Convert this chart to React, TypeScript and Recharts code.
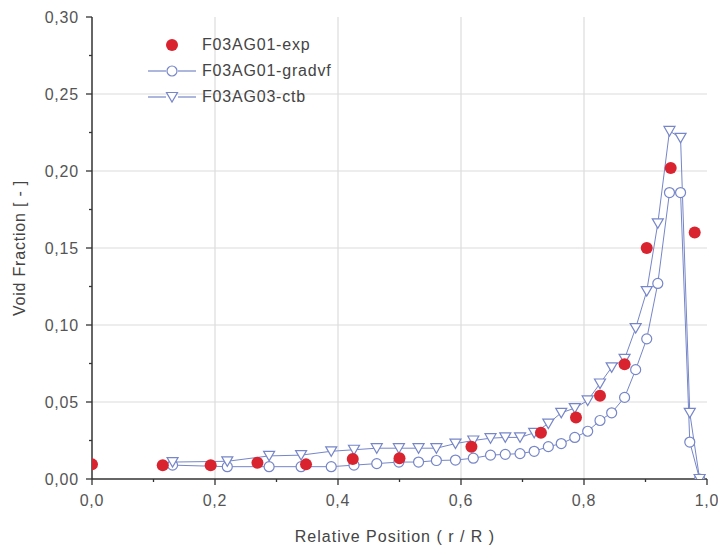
import React from "react";
import { ComposedChart, Line, Scatter, XAxis, YAxis, ReferenceLine } from "recharts";

// measured points, experiment
const expX = [0, 0.115, 0.193, 0.269, 0.348, 0.424, 0.5, 0.617, 0.73, 0.787, 0.826, 0.866, 0.902, 0.941, 0.98];
const expY = [0.0095, 0.009, 0.009, 0.0105, 0.0095, 0.013, 0.0135, 0.021, 0.03, 0.04, 0.054, 0.0745, 0.15, 0.202, 0.16];

// simulation mesh (shared by both runs)
const simX = [
  0.131, 0.22, 0.288, 0.34, 0.389, 0.426, 0.463, 0.499, 0.531, 0.56, 0.591, 0.62, 0.648, 0.672, 0.696,
  0.719, 0.742, 0.763, 0.785, 0.806, 0.826, 0.845, 0.866, 0.884, 0.902, 0.92, 0.939, 0.957, 0.972, 0.988,
];
const gradvfY = [
  0.009, 0.008, 0.008, 0.008, 0.008, 0.009, 0.01, 0.011, 0.011, 0.012, 0.0123, 0.0135, 0.0155, 0.016, 0.0165,
  0.018, 0.021, 0.023, 0.027, 0.031, 0.038, 0.043, 0.053, 0.071, 0.091, 0.127, 0.186, 0.186, 0.024, 0,
];
const ctbY = [
  0.011, 0.0115, 0.015, 0.0155, 0.018, 0.019, 0.02, 0.02, 0.02, 0.02, 0.023, 0.025, 0.0265, 0.027, 0.027,
  0.03, 0.036, 0.043, 0.046, 0.051, 0.062, 0.0725, 0.078, 0.098, 0.122, 0.166, 0.226, 0.2215, 0.043, 0,
];

const xTicks = [0, 0.1, 0.2, 0.3, 0.4, 0.5, 0.6, 0.7, 0.8, 0.9, 1.0];
const xMajor = [0, 0.2, 0.4, 0.6, 0.8, 1.0];
const yTicks = [0, 0.025, 0.05, 0.075, 0.1, 0.125, 0.15, 0.175, 0.2, 0.225, 0.25, 0.275, 0.3];
const yMajor = [0, 0.05, 0.1, 0.15, 0.2, 0.25, 0.3];
const xGrid = [0.2, 0.4, 0.6, 0.8];
const yGrid = [0.05, 0.1, 0.15, 0.2, 0.25];

const labels = ["F03AG01-exp", "F03AG01-gradvf", "F03AG03-ctb"];

const expData = expX.map((x, i) => ({ x, y: expY[i] }));
const gradvfData = simX.map((x, i) => ({ x, y: gradvfY[i] }));
const ctbData = simX.map((x, i) => ({ x, y: ctbY[i] }));

const RED = "#d9232f";
const BLUE = "#7686c8";
const AXIS = "#333";
const FONT = "'Liberation Sans', Arial, sans-serif";

const isMajor = (list: number[], v: number) => list.some((m) => Math.abs(m - v) < 1e-9);
const comma = (v: number, digits: number) => v.toFixed(digits).replace(".", ",");

const XTick = (props: any) => {
  const { x, y, payload } = props;
  const major = isMajor(xMajor, payload.value);
  return (
    <g>
      <line x1={x} x2={x} y1={y} y2={y + (major ? 6 : 3)} stroke={AXIS} strokeWidth={1.3} />
      {major && (
        <text x={x} y={y + 27} textAnchor="middle" fontSize={16} letterSpacing={0.8} fill="#555" fontFamily={FONT}>
          {comma(payload.value, 1)}
        </text>
      )}
    </g>
  );
};

const YTick = (props: any) => {
  const { x, y, payload } = props;
  const major = isMajor(yMajor, payload.value);
  return (
    <g>
      <line x1={x - (major ? 6 : 3)} x2={x} y1={y} y2={y} stroke={AXIS} strokeWidth={1.3} />
      {major && (
        <text x={x - 13} y={y + 6} textAnchor="end" fontSize={16} letterSpacing={0.8} fill="#555" fontFamily={FONT}>
          {comma(payload.value, 2)}
        </text>
      )}
    </g>
  );
};

const Triangle = (props: any) => {
  const { cx, cy } = props;
  if (cx == null || cy == null) return null;
  return (
    <path
      d={`M${cx - 5.5},${cy - 4.5} L${cx + 5.5},${cy - 4.5} L${cx},${cy + 5} Z`}
      fill="#fff"
      stroke={BLUE}
      strokeWidth={1.2}
    />
  );
};

const Circle = (props: any) => {
  const { cx, cy } = props;
  if (cx == null || cy == null) return null;
  return <circle cx={cx} cy={cy} r={5} fill="#fff" stroke={BLUE} strokeWidth={1.2} />;
};

const RedDot = (props: any) => {
  const { cx, cy } = props;
  return <circle cx={cx} cy={cy} r={6} fill={RED} />;
};

function LegendBox() {
  const rowStyle: React.CSSProperties = {
    position: "absolute",
    left: 0,
    height: 26,
    width: 220,
    display: "flex",
    alignItems: "center",
    whiteSpace: "nowrap",
  };
  const text: React.CSSProperties = { fontFamily: FONT, fontSize: 16, letterSpacing: 0.8, color: "#444", marginLeft: 6 };
  return (
    <div style={{ position: "absolute", left: 146, top: 32 }}>
      <div style={{ ...rowStyle, top: 0 }}>
        <svg width={50} height={26} style={{ flex: "none" }}>
          <circle cx={26} cy={13} r={6} fill={RED} />
        </svg>
        <span style={text}>{labels[0]}</span>
      </div>
      <div style={{ ...rowStyle, top: 26 }}>
        <svg width={50} height={26} style={{ flex: "none" }}>
          <line x1={2} x2={20} y1={13} y2={13} stroke={BLUE} strokeWidth={1.2} />
          <line x1={32} x2={50} y1={13} y2={13} stroke={BLUE} strokeWidth={1.2} />
          <circle cx={26} cy={13} r={5} fill="#fff" stroke={BLUE} strokeWidth={1.2} />
        </svg>
        <span style={text}>{labels[1]}</span>
      </div>
      <div style={{ ...rowStyle, top: 52 }}>
        <svg width={50} height={26} style={{ flex: "none" }}>
          <line x1={2} x2={20} y1={13} y2={13} stroke={BLUE} strokeWidth={1.2} />
          <line x1={32} x2={50} y1={13} y2={13} stroke={BLUE} strokeWidth={1.2} />
          <path d="M20.5,8.5 L31.5,8.5 L26,18 Z" fill="#fff" stroke={BLUE} strokeWidth={1.2} />
        </svg>
        <span style={text}>{labels[2]}</span>
      </div>
    </div>
  );
}

export default function App() {
  return (
    <div style={{ position: "absolute", left: 0, top: 0, width: 718, height: 553, background: "#fff" }}>
      <ComposedChart width={718} height={553} margin={{ top: 17, right: 11, bottom: 0, left: 0 }}>
        {xGrid.map((v) => (
          <ReferenceLine key={"gx" + v} x={v} stroke="#dcdcdc" strokeWidth={1.2} />
        ))}
        {yGrid.map((v) => (
          <ReferenceLine key={"gy" + v} y={v} stroke="#dcdcdc" strokeWidth={1.2} />
        ))}
        <XAxis
          dataKey="x"
          type="number"
          domain={[0, 1]}
          ticks={xTicks}
          interval={0}
          tickSize={0}
          tickMargin={0}
          tick={<XTick />}
          axisLine={{ stroke: AXIS, strokeWidth: 1.5 }}
          tickLine={false}
          height={74}
          allowDataOverflow
        />
        <YAxis
          dataKey="y"
          type="number"
          domain={[0, 0.3]}
          ticks={yTicks}
          interval={0}
          tickSize={0}
          tickMargin={0}
          tick={<YTick />}
          axisLine={{ stroke: AXIS, strokeWidth: 1.5 }}
          tickLine={false}
          width={92}
          allowDataOverflow
        />
        <Line
          data={gradvfData}
          dataKey="y"
          stroke={BLUE}
          strokeWidth={1}
          dot={<Circle />}
          activeDot={false}
          isAnimationActive={false}
        />
        <Line
          data={ctbData}
          dataKey="y"
          stroke={BLUE}
          strokeWidth={1}
          dot={<Triangle />}
          activeDot={false}
          isAnimationActive={false}
        />
        <Scatter data={expData} dataKey="y" fill={RED} shape={<RedDot />} isAnimationActive={false} />
      </ComposedChart>
      <div
        style={{
          position: "absolute",
          left: 20,
          top: 248,
          transform: "translate(-50%, -50%) rotate(-90deg)",
          whiteSpace: "nowrap",
          fontFamily: FONT,
          fontSize: 16,
          letterSpacing: 0.8,
          color: "#444",
        }}
      >
        Void Fraction [ - ]
      </div>
      <div
        style={{
          position: "absolute",
          left: 395,
          top: 528,
          transform: "translateX(-50%)",
          whiteSpace: "nowrap",
          fontFamily: FONT,
          fontSize: 16,
          letterSpacing: 1,
          color: "#444",
        }}
      >
        Relative Position ( r / R )
      </div>
      <LegendBox />
    </div>
  );
}
